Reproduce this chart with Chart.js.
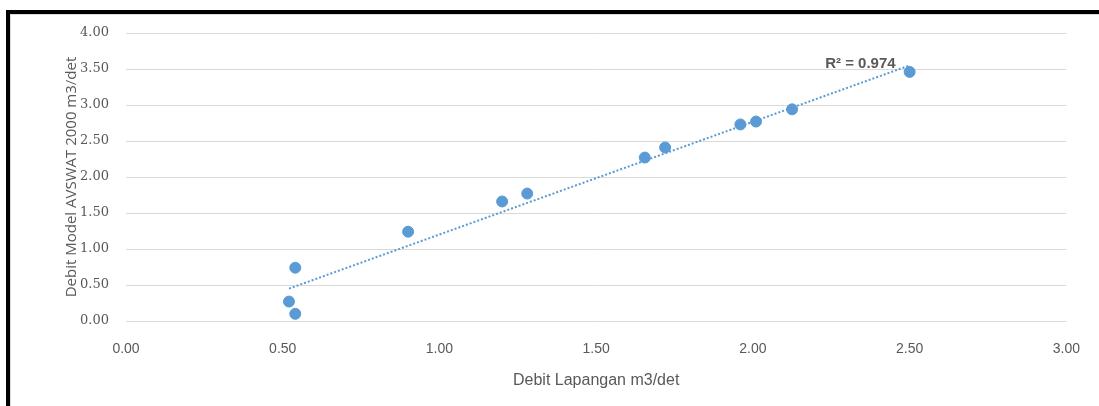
<!DOCTYPE html>
<html>
<head>
<meta charset="utf-8">
<script src="https://cdn.jsdelivr.net/npm/chart.js@4.4.1/dist/chart.umd.min.js"></script>
<style>
  html, body { margin: 0; padding: 0; background: #fff; }
  #frame {
    position: absolute; left: 6px; top: 10px;
    width: 1093px; height: 396px; box-sizing: border-box;
    border-top: 4px solid #000; border-left: 4px solid #000;
  }
  #inner {
    position: absolute; left: 0; top: 0; right: 0; bottom: 0;
    border-top: 1px solid #d9d9d9; border-left: 1px solid #d9d9d9;
  }
  #wrap { position: absolute; left: 1px; top: 1px; width: 1088px; height: 391px; }
</style>
</head>
<body>
<div id="frame"><div id="inner"><div id="wrap"><canvas id="chart"></canvas></div></div></div>
<script>
// debit lapangan (x) vs debit model AVSWAT (y), m3/det
const debitLapangan = [0.54, 0.52, 0.54, 0.90, 1.20, 1.28, 1.655, 1.72, 1.96, 2.01, 2.125, 2.50];
const debitModel    = [0.74, 0.27, 0.10, 1.24, 1.66, 1.77, 2.27, 2.41, 2.73, 2.77, 2.94, 3.46];

// garis trend linear (ujung-ujung)
const trendX = [0.52, 2.50];
const trendY = [0.45, 3.55];
const labelR2 = 'R² = 0.974';

const judulX = 'Debit Lapangan m3/det';
const judulY = 'Debit Model AVSWAT 2000 m3/det';

const biru = '#5B9BD5';
const abu = '#595959';

const titikData = debitLapangan.map((x, i) => ({ x: x, y: debitModel[i] }));
const titikTrend = trendX.map((x, i) => ({ x: x, y: trendY[i] }));

// tulis label R² di ujung garis trend
const labelTrend = {
  id: 'labelTrend',
  afterDatasetsDraw(chart) {
    const ctx = chart.ctx;
    const xs = chart.scales.x, ys = chart.scales.y;
    const px = xs.getPixelForValue(trendX[1]);
    const py = ys.getPixelForValue(trendY[1]);
    ctx.save();
    ctx.font = 'bold 15px "Liberation Sans", sans-serif';
    ctx.fillStyle = abu;
    ctx.textAlign = 'right';
    ctx.textBaseline = 'middle';
    ctx.fillText(labelR2, px - 14, py - 2);
    ctx.restore();
  }
};

new Chart(document.getElementById('chart'), {
  type: 'scatter',
  data: {
    datasets: [
      {
        label: 'Data',
        data: titikData,
        backgroundColor: biru,
        borderColor: biru,
        pointRadius: 5.5,
        pointHoverRadius: 5.5,
        order: 1
      },
      {
        label: 'Trend',
        type: 'line',
        data: titikTrend,
        borderColor: biru,
        borderWidth: 2,
        borderDash: [2, 2],
        pointRadius: 0,
        fill: false,
        order: 2
      }
    ]
  },
  options: {
    responsive: true,
    maintainAspectRatio: false,
    animation: false,
    layout: { padding: { top: 17, right: 28, left: 0, bottom: 0 } },
    plugins: { legend: { display: false }, tooltip: { enabled: false } },
    scales: {
      x: {
        type: 'linear',
        min: 0, max: 3,
        afterFit: s => { s.height = 86; },
        grid: { display: false, drawTicks: false },
        border: { display: false },
        ticks: {
          stepSize: 0.5,
          padding: 20,
          color: abu,
          font: { family: '"Liberation Sans", sans-serif', size: 14 },
          callback: v => v.toFixed(2)
        },
        title: {
          display: true,
          text: judulX,
          color: abu,
          padding: { top: 0, bottom: 17 },
          font: { family: '"Liberation Sans", sans-serif', size: 16 }
        }
      },
      y: {
        min: 0, max: 4,
        afterFit: s => { s.width = 114; s.paddingTop = 0; s.paddingBottom = 0; },
        grid: { color: '#d9d9d9', lineWidth: 1, drawTicks: false },
        border: { display: false },
        ticks: {
          stepSize: 0.5,
          padding: 17,
          color: abu,
          font: { family: '"DejaVu Serif", serif', size: 13 },
          callback: v => v.toFixed(2)
        },
        title: {
          display: true,
          text: judulY,
          color: abu,
          padding: { top: 51, bottom: 0 },
          font: { family: '"Open Sans", sans-serif', size: 15 }
        }
      }
    }
  },
  plugins: [labelTrend]
});
</script>
</body>
</html>
